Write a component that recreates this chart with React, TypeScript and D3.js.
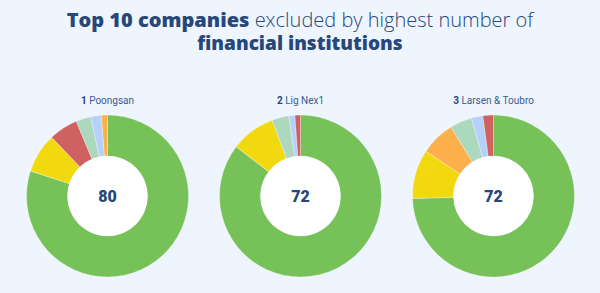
import React from "react";
import * as d3 from "d3";

const companies = ["Poongsan", "Lig Nex1", "Larsen & Toubro"];
const ranks = [1, 2, 3];
const centerValues = [80, 72, 72];
const categories = ["green", "yellow", "orange", "red", "lightgreen", "lightblue"];
// segment order clockwise from 12 o'clock, values in percent of the ring
const seg1Keys = ["green", "yellow", "red", "lightgreen", "lightblue", "orange"];
const seg1Vals = [80, 7.9, 5.8, 3.0, 2.1, 1.2];
const seg2Keys = ["green", "yellow", "lightgreen", "lightblue", "red"];
const seg2Vals = [85.4, 8.9, 3.4, 1.2, 1.1];
const seg3Keys = ["green", "yellow", "orange", "lightgreen", "lightblue", "red"];
const seg3Vals = [74.5, 9.8, 6.9, 4.4, 2.3, 2.1];

const palette = ["#77c159", "#f2d90f", "#fdaf4b", "#d06161", "#acd8be", "#b5d1fb"];

const W = 600;
const H = 293;
const NAVY = "#27477a";

export default function App() {
  const color = d3.scaleOrdinal<string, string>().domain(categories).range(palette);
  const x = d3.scalePoint<number>().domain([0, 1, 2]).range([107.5, 493.5]);
  const outerR = 81;
  const innerR = 40;
  const cy = 196;
  const arc = d3.arc<d3.PieArcDatum<number>>().innerRadius(innerR).outerRadius(outerR);
  const pie = d3.pie<number>().sort(null).value((d) => d);
  const sets = [
    { keys: seg1Keys, vals: seg1Vals },
    { keys: seg2Keys, vals: seg2Vals },
    { keys: seg3Keys, vals: seg3Vals },
  ];
  return (
    <>
      <style>{"body{margin:0;background:#eef5ff}"}</style>
      <svg width={W} height={H} style={{ display: "block", background: "#eef5ff" }}>
        <rect width={W} height={H} fill="#eef5ff" />
        <text textAnchor="middle" fontFamily="'Open Sans'" fontSize={20} fill={NAVY}>
          <tspan x={W / 2} y={27}>
            <tspan fontWeight={800}>Top 10 companies</tspan>
            <tspan fontWeight={300}> excluded by highest number of</tspan>
          </tspan>
          <tspan x={W / 2} y={50} fontWeight={800} fontSize={19}>
            financial institutions
          </tspan>
        </text>
        {sets.map((s, i) => {
          const arcs = pie(s.vals);
          return (
            <g key={i} transform={`translate(${x(i)},${cy})`}>
              <text y={-92.5} textAnchor="middle" fontFamily="Roboto" fontSize={10} fill="#3b5b8f">
                <tspan fontWeight={700} fill={NAVY}>{ranks[i]}</tspan>
                <tspan> {companies[i]}</tspan>
              </text>
              {arcs.map((a, j) => (
                <path key={j} d={arc(a) || ""} fill={color(s.keys[j])} stroke="#ffffff" strokeWidth={0.3} />
              ))}
              <circle r={innerR} fill="#ffffff" />
              <text y={5.5} textAnchor="middle" fontFamily="Roboto" fontWeight={900} fontSize={16} fill={NAVY}>
                {centerValues[i]}
              </text>
            </g>
          );
        })}
      </svg>
    </>
  );
}
